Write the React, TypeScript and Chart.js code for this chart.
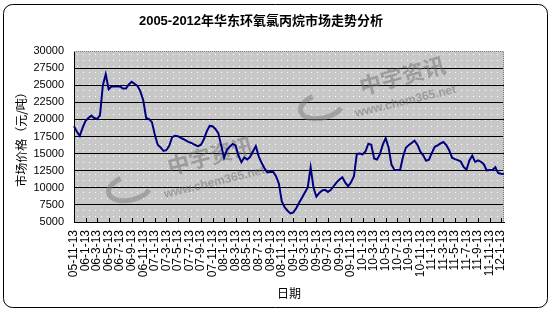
import { useEffect, useRef } from "react";
import { Chart, registerables } from "chart.js";

Chart.register(...registerables);

const titleText = "2005-2012年华东环氧氯丙烷市场走势分析";
const yAxisTitle = "市场价格（元/吨）";
const xAxisTitle = "日期";
const watermarkName = "中宇资讯";
const watermarkUrl = "www.chem365.net";

// tick labels, one every 2 months (every 4th half-month category)
const tickLabels = [
  "05-11-13",
  "06-1-13", "06-3-13", "06-5-13", "06-7-13", "06-9-13", "06-11-13",
  "07-1-13", "07-3-13", "07-5-13", "07-7-13", "07-9-13", "07-11-13",
  "08-1-13", "08-3-13", "08-5-13", "08-7-13", "08-9-13", "08-11-13",
  "09-1-13", "09-3-13", "09-5-13", "09-7-13", "09-9-13", "09-11-13",
  "10-1-13", "10-3-13", "10-5-13", "10-7-13", "10-9-13", "10-11-13",
  "11-1-13", "11-3-13", "11-5-13", "11-7-13", "11-9-13", "11-11-13",
  "12-1-13",
];

// half-monthly price readings (元/吨), from 2005-11-13
const prices = [
  19000, 18200, 17600, 18800, 19800, 20200, 20550, 20200, 20050, 20600,
  25000, 26600, 24400, 24800, 24800, 24800, 24800, 24500, 24500, 25100,
  25500, 25200, 24900, 24100, 22800, 20200, 20050, 19600, 17800, 16300,
  15900, 15400, 15500, 16150, 17400, 17600, 17550, 17300, 17100, 16850,
  16650, 16500, 16250, 16100, 16300, 17100, 18250, 19050, 19000, 18600,
  18000, 16200, 14400, 15550, 16050, 16400, 16200, 14700, 13750, 14450,
  14150, 14500, 15300, 16100, 14600, 13650, 12850, 12250, 12300, 12350,
  11700, 10600, 8000, 7150, 6650, 6250, 6400, 7000, 7800, 8550,
  9300, 10050, 13000, 10000, 8700, 9250, 9600, 9700, 9400, 9700,
  10250, 10800, 11200, 11550, 10750, 10200, 10800, 11700, 14950, 15000,
  14900, 15300, 16450, 16300, 14300, 14150, 14900, 16300, 17250, 15900,
  13400, 12650, 12600, 12600, 14550, 15850, 16250, 16550, 16900, 16300,
  15300, 14750, 13950, 14100, 15100, 16000, 16200, 16500, 16700, 16250,
  15500, 14400, 14200, 14050, 13850, 13050, 12650, 14000, 14700, 13800,
  14000, 13800, 13450, 12550, 12600, 12600, 13000, 12150, 12050, 12000,
];

const yMin = 5000;
const yMax = 30000;
const yStep = 2500;

const CATS_PER_TICK = 4;

const sansFont = '"Liberation Sans", "Noto Sans CJK SC", sans-serif';
const cjkFont = '"Noto Sans CJK SC", "Liberation Sans", sans-serif';

const decorPlugin = {
  id: "decor",
  beforeDraw(chart: any) {
    const { ctx, chartArea: a } = chart;
    ctx.save();
    ctx.fillStyle = "#ffffff";
    ctx.fillRect(0, 0, chart.width, chart.height);
    // outer rounded frame
    ctx.strokeStyle = "#000000";
    ctx.lineWidth = 1;
    ctx.beginPath();
    ctx.roundRect(3.5, 4.5, 544, 303, 9);
    ctx.stroke();
    // plot area fill with dotted pattern
    ctx.fillStyle = "#c8c8c8";
    ctx.fillRect(a.left, a.top, a.right - a.left, a.bottom - a.top);
    ctx.fillStyle = "#ffffff";
    for (let y = Math.round(a.top) + 3; y < a.bottom; y += 6) {
      for (let x = Math.round(a.left) + 3; x < a.right; x += 6) {
        ctx.fillRect(x, y, 1, 1);
      }
    }
    ctx.restore();
  },
  beforeDatasetsDraw(chart: any) {
    const { ctx, chartArea: a } = chart;
    ctx.save();
    // plot border top & right (dotted gray)
    ctx.strokeStyle = "#808080";
    ctx.lineWidth = 1;
    ctx.setLineDash([1, 1]);
    ctx.beginPath();
    ctx.moveTo(a.left, Math.round(a.top) + 0.5);
    ctx.lineTo(Math.round(a.right) - 0.5, Math.round(a.top) + 0.5);
    ctx.lineTo(Math.round(a.right) - 0.5, a.bottom);
    ctx.stroke();
    ctx.setLineDash([]);
    // inside tick marks on the x axis
    const xs = chart.scales.x;
    ctx.strokeStyle = "#000000";
    ctx.beginPath();
    xs.ticks.forEach((_t: any, i: number) => {
      if (i % CATS_PER_TICK !== 0) return;
      const px = Math.round(xs.getPixelForTick(i)) + 0.5;
      ctx.moveTo(px, a.bottom);
      ctx.lineTo(px, a.bottom - 4);
    });
    ctx.stroke();
    // watermarks
    const marks = [
      { x: 170, y: 175, ux: 165, uy: 198, cx: 130, cy: 188 },
      { x: 362, y: 95, ux: 356, uy: 117, cx: 322, cy: 106 },
    ];
    marks.forEach((m) => {
      ctx.save();
      ctx.globalAlpha = 0.5;
      ctx.strokeStyle = "#7a7a7a";
      ctx.lineWidth = 5;
      ctx.beginPath();
      ctx.ellipse(m.cx, m.cy, 22, 12, -0.25, 0.6, 4.4);
      ctx.stroke();
      ctx.fillStyle = "#6e6e6e";
      ctx.translate(m.x, m.y);
      ctx.rotate(-0.26);
      ctx.font = "bold 22px " + cjkFont;
      ctx.textBaseline = "alphabetic";
      ctx.fillText(watermarkName, 0, 0);
      ctx.restore();
      ctx.save();
      ctx.globalAlpha = 0.5;
      ctx.fillStyle = "#6e6e6e";
      ctx.translate(m.ux, m.uy);
      ctx.rotate(-0.24);
      ctx.font = "bold 12px " + sansFont;
      ctx.fillText(watermarkUrl, 0, 0);
      ctx.restore();
    });
    ctx.restore();
  },
  afterDraw(chart: any) {
    const { ctx } = chart;
    ctx.save();
    ctx.fillStyle = "#000000";
    ctx.font = "bold 13px " + sansFont;
    ctx.textAlign = "center";
    ctx.textBaseline = "middle";
    ctx.fillText(titleText, 261, 21);
    ctx.restore();
  },
};

export default function App() {
  const ref = useRef<HTMLCanvasElement | null>(null);

  useEffect(() => {
    if (!ref.current) return;
    const labels = prices.map((_, i) =>
      i % CATS_PER_TICK === 0 ? tickLabels[i / CATS_PER_TICK] ?? "" : ""
    );
    const chart = new Chart(ref.current, {
      type: "line",
      data: {
        labels,
        datasets: [
          {
            data: prices,
            borderColor: "#000080",
            borderWidth: 2,
            pointRadius: 0,
            tension: 0,
            fill: false,
          },
        ],
      },
      options: {
        responsive: false,
        animation: false,
        devicePixelRatio: 1,
        layout: { padding: { left: 8, right: 50, top: 51, bottom: 10 } },
        plugins: {
          legend: { display: false },
          tooltip: { enabled: false },
          title: { display: false },
        },
        scales: {
          x: {
            type: "category",
            offset: false,
            grid: { display: false, drawTicks: false },
            border: { display: true, color: "#000000", width: 1 },
            ticks: {
              autoSkip: false,
              maxRotation: 90,
              minRotation: 90,
              padding: 8,
              color: "#000000",
              font: { family: sansFont, size: 12 },
            },
            title: {
              display: true,
              text: xAxisTitle,
              color: "#000000",
              font: { family: cjkFont, size: 12 },
              padding: { top: 0, bottom: 5 },
            },
            afterFit(scale: any) {
              scale.height = 84;
            },
          },
          y: {
            min: yMin,
            max: yMax,
            ticks: {
              stepSize: yStep,
              padding: 10,
              color: "#000000",
              font: { family: sansFont, size: 11 },
              callback: (v: any) => String(v),
            },
            grid: {
              drawTicks: false,
              color: (c: any) =>
                c.tick && c.tick.value === yMax ? "rgba(0,0,0,0)" : "#000000",
              lineWidth: 1,
            },
            border: { display: true, color: "#000000", width: 1 },
            title: {
              display: true,
              text: yAxisTitle,
              color: "#000000",
              font: { family: cjkFont, size: 12 },
              padding: { top: 6, bottom: 0 },
            },
            afterFit(scale: any) {
              scale.width = 66;
            },
          },
        },
      },
      plugins: [decorPlugin],
    });
    return () => chart.destroy();
  }, []);

  return (
    <div style={{ position: "fixed", left: 0, top: 0, width: 554, height: 316 }}>
      <canvas ref={ref} width={554} height={316} />
    </div>
  );
}
